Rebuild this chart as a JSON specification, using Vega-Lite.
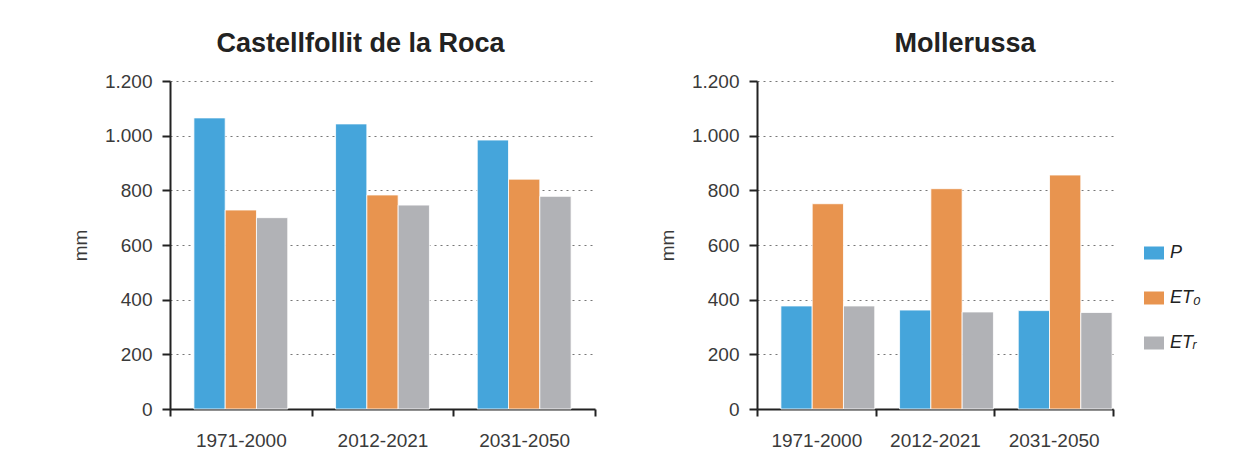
{
  "$schema": "https://vega.github.io/schema/vega-lite/v6.json",
  "padding": {"left": 71, "top": 30, "right": 5, "bottom": 5},
  "background": "white",
  "datasets": {
    "et": [
      {"site": "Castellfollit de la Roca", "period": "1971-2000", "var": "P", "mm": 1065},
      {"site": "Castellfollit de la Roca", "period": "1971-2000", "var": "ET0", "mm": 728},
      {"site": "Castellfollit de la Roca", "period": "1971-2000", "var": "ETr", "mm": 700},
      {"site": "Castellfollit de la Roca", "period": "2012-2021", "var": "P", "mm": 1043},
      {"site": "Castellfollit de la Roca", "period": "2012-2021", "var": "ET0", "mm": 783},
      {"site": "Castellfollit de la Roca", "period": "2012-2021", "var": "ETr", "mm": 746},
      {"site": "Castellfollit de la Roca", "period": "2031-2050", "var": "P", "mm": 984},
      {"site": "Castellfollit de la Roca", "period": "2031-2050", "var": "ET0", "mm": 841},
      {"site": "Castellfollit de la Roca", "period": "2031-2050", "var": "ETr", "mm": 778},
      {"site": "Mollerussa", "period": "1971-2000", "var": "P", "mm": 377},
      {"site": "Mollerussa", "period": "1971-2000", "var": "ET0", "mm": 751},
      {"site": "Mollerussa", "period": "1971-2000", "var": "ETr", "mm": 377},
      {"site": "Mollerussa", "period": "2012-2021", "var": "P", "mm": 362},
      {"site": "Mollerussa", "period": "2012-2021", "var": "ET0", "mm": 806},
      {"site": "Mollerussa", "period": "2012-2021", "var": "ETr", "mm": 355},
      {"site": "Mollerussa", "period": "2031-2050", "var": "P", "mm": 360},
      {"site": "Mollerussa", "period": "2031-2050", "var": "ET0", "mm": 856},
      {"site": "Mollerussa", "period": "2031-2050", "var": "ETr", "mm": 353}
    ]
  },
  "hconcat": [
    {
      "data": {"name": "et"},
      "transform": [{"filter": "datum.site === 'Castellfollit de la Roca'"}],
      "title": {"text": "Castellfollit de la Roca", "dx": -22},
      "width": 425,
      "height": 328,
      "mark": {"type": "bar", "stroke": "white", "strokeWidth": 0.8},
      "encoding": {
        "x": {"field": "period", "type": "nominal", "title": null,
              "scale": {"paddingInner": 0, "paddingOuter": 0}},
        "xOffset": {"field": "var", "type": "nominal", "sort": ["P", "ET0", "ETr"], "scale": {"paddingInner": 0, "paddingOuter": 0.764}},
        "y": {"field": "mm", "type": "quantitative", "title": "mm",
              "scale": {"domain": [0, 1200]}, "axis": {"values": [0, 200, 400, 600, 800, 1000, 1200]}},
        "color": {"field": "var", "type": "nominal", "sort": ["P", "ET0", "ETr"],
                  "scale": {"domain": ["P", "ET0", "ETr"], "range": ["#45A5DB", "#E8944F", "#B1B2B6"]},
                  "legend": null}
      }
    },
    {
      "data": {"name": "et"},
      "transform": [{"filter": "datum.site === 'Mollerussa'"}],
      "title": {"text": "Mollerussa", "dx": 30},
      "width": 356,
      "height": 328,
      "mark": {"type": "bar", "stroke": "white", "strokeWidth": 0.8},
      "encoding": {
        "x": {"field": "period", "type": "nominal", "title": null,
              "scale": {"paddingInner": 0, "paddingOuter": 0}},
        "xOffset": {"field": "var", "type": "nominal", "sort": ["P", "ET0", "ETr"], "scale": {"paddingInner": 0, "paddingOuter": 0.764}},
        "y": {"field": "mm", "type": "quantitative", "title": "mm",
              "scale": {"domain": [0, 1200]}, "axis": {"values": [0, 200, 400, 600, 800, 1000, 1200]}},
        "color": {"field": "var", "type": "nominal", "sort": ["P", "ET0", "ETr"],
                  "scale": {"domain": ["P", "ET0", "ETr"], "range": ["#45A5DB", "#E8944F", "#B1B2B6"]},
                  "legend": {
                    "title": null, "orient": "none", "legendX": 387, "legendY": 162,
                    "symbolType": "M-1,-0.65H1V0.65H-1Z", "symbolSize": 400,
                    "symbolStrokeWidth": 0, "symbolOpacity": 1,
                    "labelFont": "Liberation Sans", "labelFontStyle": "italic", "labelFontSize": 18,
                    "labelColor": "#222", "labelOffset": 6, "rowPadding": 26,
                    "labelExpr": "datum.label === 'ET0' ? 'ET₀' : datum.label === 'ETr' ? 'ETᵣ' : datum.label"
                  }}
      }
    }
  ],
  "spacing": 62,
  "resolve": {"scale": {"color": "independent"}, "legend": {"color": "independent"}},
  "config": {
    "font": "Liberation Sans",
    "view": {"stroke": null},
    "title": {"font": "Liberation Sans", "fontSize": 27, "fontWeight": "bold", "color": "#222",
              "anchor": "middle", "frame": "group", "offset": 14},
    "axisY": {
      "domainColor": "#222", "domainWidth": 2,
      "tickColor": "#222", "tickWidth": 2, "tickSize": 8,
      "labelFont": "Liberation Sans", "labelFontSize": 19, "labelColor": "#3a3a3a", "labelPadding": 10,
      "labelExpr": "replace(format(datum.value, ','), ',', '.')",
      "grid": true, "gridColor": "#777", "gridDash": [2, 4], "gridWidth": 1,
      "titleFont": "Liberation Sans", "titleFontSize": 19, "titleFontWeight": "normal", "titleColor": "#3a3a3a", "titlePadding": 14
    },
    "axisX": {
      "zindex": 1,
      "domainColor": "#222", "domainWidth": 2,
      "tickColor": "#222", "tickWidth": 2, "tickSize": 7, "tickBand": "extent",
      "labelFont": "Liberation Sans", "labelFontSize": 19, "labelColor": "#3a3a3a", "labelPadding": 15,
      "labelAngle": 0, "grid": false
    }
  }
}
